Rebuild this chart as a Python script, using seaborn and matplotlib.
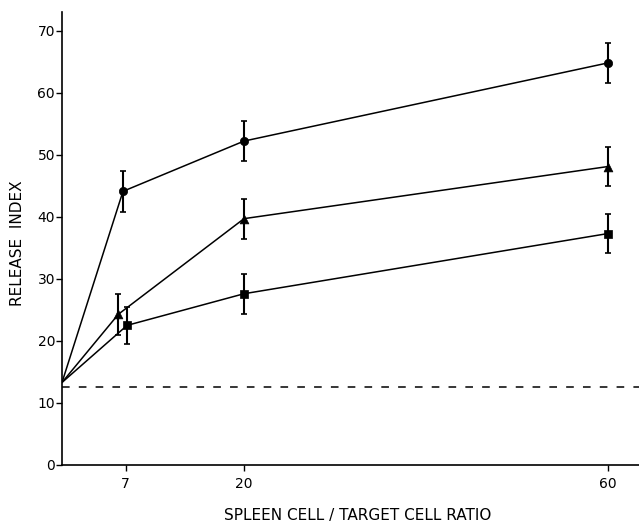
import numpy as np
import pandas as pd
import seaborn as sns
import matplotlib
matplotlib.use("Agg")
import matplotlib.pyplot as plt

# spleen cell / target cell ratios and release index (mean, error)
ratio = [7, 20, 60]
circle_y = [44.1, 52.2, 64.8]
circle_err = [3.3, 3.2, 3.2]
triangle_y = [24.3, 39.7, 48.1]
triangle_err = [3.3, 3.2, 3.2]
square_y = [22.5, 27.6, 37.3]
square_err = [3.0, 3.2, 3.2]
start_ratio = 0
start_y = 13.3          # all curves start at the spontaneous release
baseline_y = 12.6       # dashed background line
yticks = [0, 10, 20, 30, 40, 50, 60, 70]

series = {
    "circle": (circle_y, circle_err),
    "triangle": (triangle_y, triangle_err),
    "square": (square_y, square_err),
}
# small sideways shift at ratio 7 so the points don't sit on each other
dodge7 = {"circle": -0.3, "triangle": -0.8, "square": 0.15}

rows = []
for name, (ys, errs) in series.items():
    rows.append(dict(series=name, x=start_ratio, y=start_y, err=np.nan, pt=False))
    for r, v, e in zip(ratio, ys, errs):
        xr = r + dodge7[name] if r == 7 else r
        rows.append(dict(series=name, x=xr, y=v, err=e, pt=True))
df = pd.DataFrame(rows)
pts = df[df.pt]

sns.set_style("ticks")
plt.rcParams["font.family"] = ["DejaVu Sans"]
plt.rcParams.update({"text.color": "k", "axes.labelcolor": "k",
                     "xtick.color": "k", "ytick.color": "k"})

fig = plt.figure(figsize=(6.39, 5.25), dpi=100)
ax = fig.add_axes([62 / 639, 60 / 525, 577 / 639, 453 / 525])

sns.lineplot(data=df, x="x", y="y", units="series", estimator=None, sort=False,
             color="k", lw=1.1, ax=ax, legend=False)
ax.errorbar(pts.x, pts.y, yerr=pts.err, fmt="none", ecolor="k",
            elinewidth=1.5, capsize=2.2, capthick=1.2)
for name, mk, s in [("circle", "o", 36), ("triangle", "^", 40), ("square", "s", 26)]:
    sub = pts[pts.series == name]
    sns.scatterplot(x=sub.x, y=sub.y, marker=mk, s=s, color="k",
                    edgecolor="k", linewidth=0.5, ax=ax, legend=False, zorder=5)

ax.axhline(baseline_y, color="k", lw=1.1, ls=(0, (5, 6)))

ax.set_xlim(0, 63.4)
ax.set_ylim(0, 73)
ax.set_xticks(ratio)
ax.set_yticks(yticks)
ax.tick_params(axis="both", direction="out", length=4, width=1, labelsize=10)
ax.tick_params(axis="y", pad=1)
ax.tick_params(axis="x", pad=5)
sns.despine(ax=ax)
for sp in ["left", "bottom"]:
    ax.spines[sp].set_linewidth(1.2)
    ax.spines[sp].set_color("k")

ax.set_xlabel("SPLEEN CELL / TARGET CELL RATIO", fontsize=11)
ax.set_ylabel("RELEASE  INDEX", fontsize=11)
ax.xaxis.set_label_coords(0.512, -0.095)
ax.yaxis.set_label_coords(-0.064, 0.49)

fig.savefig("out.png", dpi=100)
